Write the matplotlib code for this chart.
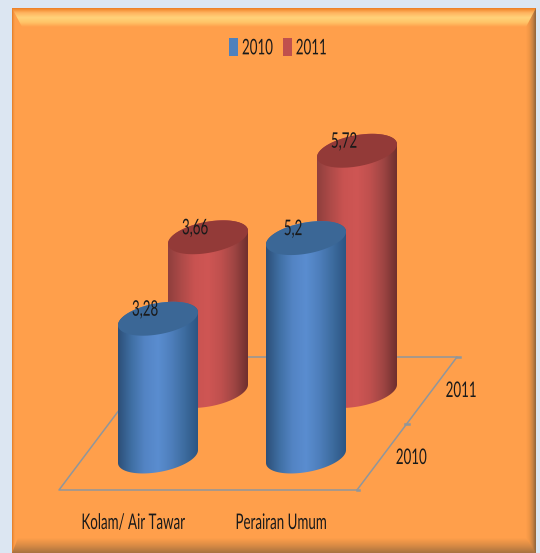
import matplotlib
matplotlib.use("Agg")
import matplotlib.pyplot as plt
import matplotlib.patches as mpatches
from matplotlib.colors import LinearSegmentedColormap
from matplotlib.patheffects import AbstractPathEffect
from matplotlib.path import Path
from matplotlib.transforms import Affine2D
import numpy as np

plt.rcParams["font.family"] = ["Lato", "DejaVu Sans"]

categories = ["Kolam/ Air Tawar", "Perairan Umum"]
series_names = ["2010", "2011"]
values_2010 = [3.28, 5.2]
values_2011 = [3.66, 5.72]
value_labels_2010 = ["3,28", "5,2"]
value_labels_2011 = ["3,66", "5,72"]

# the whole figure is one axes in pixel units, y goes down
W, H = 540, 553
PX_PER_UNIT = 42
RX, RY, TILT = 40, 15.7, -0.16
BLUE = ["#2d4f78", "#3f6fa3", "#5384c4", "#5a8dd0", "#4e7fbc", "#3d6c9f", "#2c5583"]
RED = ["#8f3f3d", "#ad4a48", "#c95351", "#cf5654", "#bf504e", "#9e4543", "#6f2f2e"]
BLUE_TOP, RED_TOP = "#3b6796", "#933a38"
TEXT = "#1a1a1a"
FONT = 15.5


class Squeeze(AbstractPathEffect):
    """Narrow the glyphs sideways, the picture uses a condensed face."""

    def __init__(self, sx=0.62, anchor="center"):
        super().__init__()
        self.sx = sx
        self.anchor = anchor

    def draw_path(self, renderer, gc, tpath, affine, rgbFace=None):
        ext = tpath.get_extents()
        x0 = ext.x0 if self.anchor == "left" else (ext.x0 + ext.x1) / 2
        pre = Affine2D().translate(-x0, 0).scale(self.sx, 1).translate(x0, 0)
        renderer.draw_path(gc, tpath, pre + affine, rgbFace)


def gradient_rect(ax, extent, colors, horizontal=True, zorder=1):
    cmap = LinearSegmentedColormap.from_list("g", colors)
    g = np.linspace(0, 1, 256)
    g = g[None, :] if horizontal else g[:, None]
    return ax.imshow(g, cmap=cmap, extent=extent, aspect="auto", zorder=zorder,
                     interpolation="bilinear")


def ellipse_pts(cx, cy, t):
    return np.c_[cx + RX * np.cos(t), cy + RY * np.sin(t) + TILT * RX * np.cos(t)]


def cylinder(ax, cx, base_y, value, colors, top_color, zorder):
    top_y = base_y - value * PX_PER_UNIT
    # lower half of the base ellipse (t 0..pi) and back along the top
    low = ellipse_pts(cx, base_y, np.linspace(0, np.pi, 60))
    up = ellipse_pts(cx, top_y, np.linspace(np.pi, 2 * np.pi, 60))
    body = Path(np.r_[low, up, low[:1]], closed=True)
    im = gradient_rect(ax, (cx - RX, cx + RX, base_y + RY + 8, top_y - RY - 8),
                       colors, zorder=zorder)
    im.set_clip_path(mpatches.PathPatch(body, transform=ax.transData))
    cap = ellipse_pts(cx, top_y, np.linspace(0, 2 * np.pi, 120))
    ax.add_patch(mpatches.Polygon(cap, closed=True, fc=top_color, ec="none",
                                  zorder=zorder + 0.1))
    return top_y


def label(ax, x, y, s):
    ax.text(x, y, s, fontsize=FONT, color=TEXT, ha="center", va="center", zorder=6,
            path_effects=[Squeeze()])


fig = plt.figure(figsize=(W / 100, H / 100), dpi=100, facecolor="#dce6f2")
ax = fig.add_axes([0, 0, 1, 1])

# panel with bevelled edges
PL, PR, PT, PB = 12, 536, 8, 553
ORANGE = "#ff9f4b"
ax.add_patch(mpatches.Rectangle((PL, PT), PR - PL, PB - PT, fc=ORANGE, ec="none", zorder=0))
gradient_rect(ax, (PL, 15, PB, PT), ["#dd7a26", "#f59440", ORANGE])
gradient_rect(ax, (526, PR, PB, PT), [ORANGE, "#f09645", "#c98345", "#8f6238"])
bottom_band = gradient_rect(ax, (PL, PR, PB, 538), [ORANGE, "#d98b45", "#a87240"], horizontal=False)
bottom_band.set_clip_path(mpatches.Polygon([(PL, PB), (PR, PB), (526, 538), (18, 538)],
                                           transform=ax.transData))
top_band = gradient_rect(ax, (PL, PR, 27, PT),
                         ["#ee7d22", "#ffb45f", "#ffd27a", "#ffc468", ORANGE], horizontal=False)
top_band.set_clip_path(mpatches.Polygon([(PL, PT), (PR, PT), (526, 27), (22, 27)],
                                        transform=ax.transData))

# floor
FLOOR = "#8f969c"
floor_x = [159, 59, 357, 457, 159]
floor_y = [357, 490, 490, 357, 357]
ax.plot(floor_x, floor_y, color=FLOOR, lw=1.1, zorder=2)
ax.plot([357, 359], [490, 490], color=FLOOR, lw=1.8, zorder=2)
ax.plot([405, 409], [424, 424], color=FLOOR, lw=1.8, zorder=2)
ax.plot([457, 460], [357, 357], color=FLOOR, lw=1.8, zorder=2)

# cylinders, back row first
cx_2010 = [158, 306]
cx_2011 = [208, 357]
tops_2011 = [cylinder(ax, x, 391, v, RED, RED_TOP, 3 + i * 0.2)
             for i, (x, v) in enumerate(zip(cx_2011, values_2011))]
tops_2010 = [cylinder(ax, x, 456.5, v, BLUE, BLUE_TOP, 4 + i * 0.2)
             for i, (x, v) in enumerate(zip(cx_2010, values_2010))]

for x, y, s in zip(cx_2011 + cx_2010, tops_2011 + tops_2010,
                   value_labels_2011 + value_labels_2010):
    label(ax, x - 13, y - 9, s)

for x, s in zip([133, 281], categories):
    label(ax, x, 523, s)
for (x, y), s in zip([(411, 458), (461, 391)], series_names):
    label(ax, x, y, s)

handles = [mpatches.Patch(fc="#4f81bd", label=series_names[0]),
           mpatches.Patch(fc="#c0504d", label=series_names[1])]
leg = ax.legend(handles=handles, loc="center", bbox_to_anchor=(287 / W, 1 - 48 / H), ncol=2,
                frameon=False, fontsize=FONT, handlelength=0.4, handleheight=0.95,
                handletextpad=0.18, columnspacing=-0.38, labelcolor=TEXT)
leg.set_zorder(6)
for t in leg.get_texts():
    t.set_path_effects([Squeeze(anchor="left")])

ax.set_xlim(0, W)
ax.set_ylim(H, 0)
ax.axis("off")

fig.savefig("out.png", dpi=100, facecolor=fig.get_facecolor())
